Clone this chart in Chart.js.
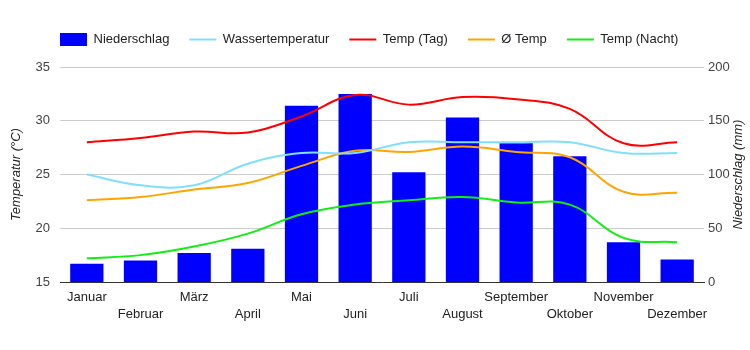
<!DOCTYPE html>
<html lang="de">
<head>
  <meta charset="UTF-8">
  <title>Klima</title>
  <script src="https://cdn.jsdelivr.net/npm/chart.js"></script>
  <style>
    body { margin: 0; background: #fff; }
    .wrap { width: 750px; height: 350px; }
  </style>
</head>
<body>
  <div class="wrap"><canvas id="klima"></canvas></div>
  <script>
    const months = ['Januar', 'Februar', 'März', 'April', 'Mai', 'Juni', 'Juli', 'August', 'September', 'Oktober', 'November', 'Dezember'];
    const niederschlag = [17, 20, 27, 31, 164, 175, 102, 153, 129, 117, 37, 21];
    const wasserTemp = [25, 24, 24, 26, 27, 27, 28, 28, 28, 28, 27, 27];
    const tempTag = [28, 28.4, 29, 28.9, 30.4, 32.4, 31.5, 32.2, 32, 31.1, 27.9, 28];
    const tempMittel = [22.6, 22.9, 23.6, 24.2, 25.8, 27.2, 27.1, 27.6, 27.1, 26.6, 23.4, 23.3];
    const tempNacht = [17.2, 17.5, 18.3, 19.5, 21.3, 22.2, 22.6, 22.9, 22.4, 22.2, 19.1, 18.7];
    const tempTicks = [15, 20, 25, 30, 35];
    const mmTicks = [0, 50, 100, 150, 200];

    const font = 'Liberation Sans, Arial, sans-serif';

    // legend height + left offset like the original
    const legendTweak = {
      id: 'legendTweak',
      beforeInit(chart) {
        const fit = chart.legend.fit;
        chart.legend.fit = function () {
          fit.bind(chart.legend)();
          this.height = 54;
        };
      },
      afterLayout(chart) {
        chart.legend.left += 40;
      }
    };

    // right axis title reads bottom to top
    const rightTitle = {
      id: 'rightTitle',
      afterDraw(chart) {
        const c = chart.ctx;
        const a = chart.chartArea;
        c.save();
        c.translate(738, (a.top + a.bottom) / 2);
        c.rotate(-Math.PI / 2);
        c.font = 'italic 13px ' + font;
        c.fillStyle = '#222';
        c.textAlign = 'center';
        c.textBaseline = 'middle';
        c.fillText('Niederschlag (mm)', 0, 0);
        c.restore();
      }
    };

    const lineDs = (label, data, color) => ({
      type: 'line',
      label: label,
      data: data,
      yAxisID: 'yTemp',
      borderColor: color,
      backgroundColor: color,
      borderWidth: 2,
      pointRadius: 0,
      tension: 0.4,
      pointStyle: 'line',
      order: 0
    });

    new Chart(document.getElementById('klima'), {
      type: 'bar',
      data: {
        labels: months,
        datasets: [
          {
            label: 'Niederschlag',
            data: niederschlag,
            yAxisID: 'yMm',
            backgroundColor: '#0000ff',
            borderWidth: 0,
            categoryPercentage: 0.62,
            barPercentage: 1,
            pointStyle: 'rect',
            order: 1
          },
          lineDs('Wassertemperatur', wasserTemp, '#80dfff'),
          lineDs('Temp (Tag)', tempTag, '#ff0000'),
          lineDs('Ø Temp', tempMittel, '#ffa500'),
          lineDs('Temp (Nacht)', tempNacht, '#11ee11')
        ]
      },
      options: {
        responsive: true,
        maintainAspectRatio: false,
        animation: false,
        layout: { padding: { top: 13, left: 0, right: 0, bottom: 0 } },
        plugins: {
          legend: {
            position: 'top',
            align: 'start',
            labels: {
              usePointStyle: true,
              pointStyleWidth: 27,
              boxHeight: 13,
              padding: 20,
              color: '#222',
              font: { family: font, size: 13 },
              sort: (a, b) => a.datasetIndex - b.datasetIndex
            }
          },
          tooltip: { enabled: false }
        },
        scales: {
          x: {
            grid: { display: false, drawTicks: false },
            border: { color: '#333', width: 1 },
            ticks: {
              autoSkip: false,
              maxRotation: 0,
              padding: 7,
              color: '#222',
              font: { family: font, size: 13, lineHeight: 1.3 },
              callback: (v, i) => i % 2 ? ['', months[i]] : months[i]
            },
            afterFit: s => { s.height = 68; }
          },
          yTemp: {
            position: 'left',
            min: 15,
            max: 35,
            afterBuildTicks: s => { s.ticks = tempTicks.map(v => ({ value: v })); },
            grid: { color: '#cccccc', drawTicks: false },
            border: { display: false },
            ticks: {
              padding: 10,
              color: '#444',
              font: { family: font, size: 13 }
            },
            title: {
              display: true,
              text: 'Temperatur (°C)',
              color: '#222',
              padding: { top: 9, bottom: 0 },
              font: { family: font, size: 13, style: 'italic' }
            },
            afterFit: s => { s.width = 60; }
          },
          yMm: {
            position: 'right',
            min: 0,
            max: 200,
            afterBuildTicks: s => { s.ticks = mmTicks.map(v => ({ value: v })); },
            grid: { display: false, drawTicks: false },
            border: { display: false },
            ticks: {
              padding: 4,
              color: '#444',
              font: { family: font, size: 13 }
            },
            afterFit: s => { s.width = 46; }
          }
        }
      },
      plugins: [legendTweak, rightTitle]
    });
  </script>
</body>
</html>
